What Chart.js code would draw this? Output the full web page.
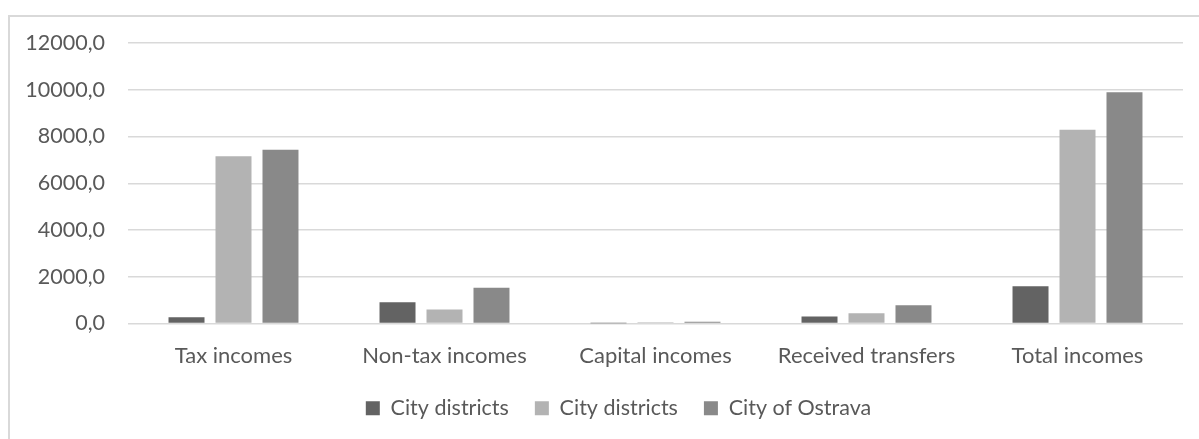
<!DOCTYPE html>
<html>
<head>
<meta charset="utf-8">
<script src="https://cdn.jsdelivr.net/npm/chart.js@4/dist/chart.umd.min.js"></script>
<style>
  html, body { margin: 0; padding: 0; background: #fff; overflow: hidden; }
  #frame {
    position: absolute; left: 8px; top: 15px; width: 1300px; height: 600px;
    border-left: 2px solid #d9d9d9; border-top: 2px solid #d9d9d9;
  }
  #wrap { position: absolute; left: 0; top: 0; width: 1199px; height: 439px; }
</style>
</head>
<body>
<div id="frame"></div>
<div id="wrap"><canvas id="incomes-chart"></canvas></div>
<script>
const categories = ['Tax incomes', 'Non-tax incomes', 'Capital incomes', 'Received transfers', 'Total incomes'];
const seriesNames = ['City districts', 'City districts', 'City of Ostrava'];
const districtsA = [270, 910, 5, 300, 1590];
const districtsB = [7160, 600, 50, 440, 8290];
const ostrava = [7430, 1530, 70, 785, 9890];
const yTicks = [0, 2000, 4000, 6000, 8000, 10000, 12000];

const textColor = '#595959';
const gridColor = '#d9d9d9';
const barColors = ['#636363', '#b3b3b3', '#898989'];
const fontFamily = 'Lato, "Open Sans", sans-serif';

Chart.defaults.font.family = fontFamily;
Chart.defaults.color = textColor;

const ctx = document.getElementById('incomes-chart').getContext('2d');

const datasets = [districtsA, districtsB, ostrava].map((values, i) => ({
    label: seriesNames[i],
    data: values,
    backgroundColor: barColors[i],
    borderWidth: 0,
    categoryPercentage: 0.668,
    barPercentage: 0.766
}));

// nudge the legend row a bit to the right of the canvas centre
const legendShift = {
    id: 'legendShift',
    afterLayout(chart) {
        chart.legend.left += 27;
        chart.legend.right += 27;
    }
};

const incomesChart = new Chart(ctx, {
    type: 'bar',
    data: { labels: categories, datasets: datasets },
    plugins: [legendShift],
    options: {
        responsive: true,
        maintainAspectRatio: false,
        animation: false,
        layout: { padding: { left: 0, right: 16, top: 43, bottom: 10 } },
        plugins: {
            tooltip: { enabled: false },
            legend: {
                position: 'bottom',
                labels: {
                    boxWidth: 14,
                    boxHeight: 14,
                    padding: 26,
                    color: textColor,
                    font: { size: 21.5 }
                }
            }
        },
        scales: {
            x: {
                grid: { display: false },
                border: { display: false },
                ticks: { color: textColor, font: { size: 22 }, padding: 11, maxRotation: 0 },
                afterFit: (scale) => { scale.height = 48; }
            },
            y: {
                min: 0,
                max: 12000,
                afterBuildTicks: (scale) => { scale.ticks = yTicks.map(v => ({ value: v })); },
                grid: { color: gridColor, lineWidth: 1.5, drawTicks: false },
                border: { display: false },
                ticks: {
                    color: textColor,
                    font: { size: 21.5 },
                    padding: 23,
                    callback: (v) => v.toFixed(1).replace('.', ',')
                },
                afterFit: (scale) => { scale.width = 128; }
            }
        }
    }
});
</script>
</body>
</html>
